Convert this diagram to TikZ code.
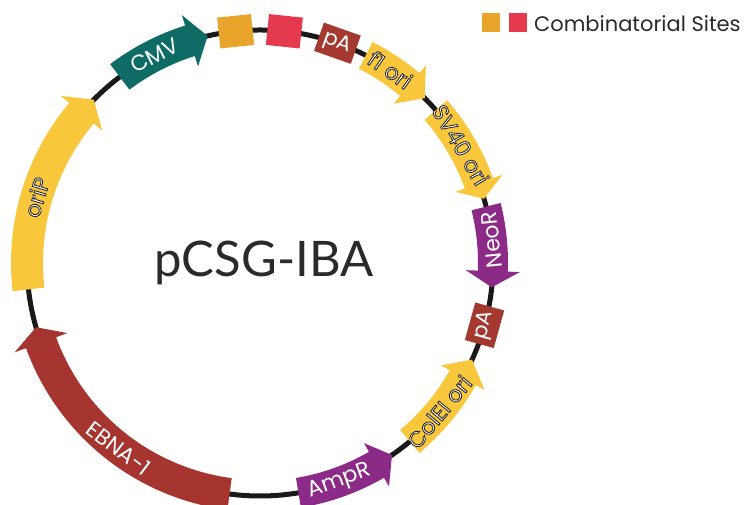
\documentclass[tikz,border=0pt]{standalone}
\usepackage{fontspec}
\setmainfont{Lato}
\newfontfamily\labfont{Poppins}
\definecolor{cmvc}{HTML}{0E6B66}
\definecolor{orc}{HTML}{E9A52B}
\definecolor{redc}{HTML}{E53A4E}
\definecolor{pac}{HTML}{A3392F}
\definecolor{yelc}{HTML}{F8C73B}
\definecolor{purc}{HTML}{8B2A87}
\definecolor{ebnac}{HTML}{A5352E}
\definecolor{txtc}{HTML}{2A2A2A}
% color, start, head base, tip, half width, head half width
\newcommand\featarrow[6]{%
  \fill[#1] (#2:{233+#5}) arc[start angle=#2, end angle=#3, radius={233+#5}]
    -- (#3:{233+#6}) -- (#4:233) -- (#3:{233-#6}) -- (#3:{233-#5})
    arc[start angle=#3, end angle=#2, radius={233-#5}] -- cycle;}
% white text with a thin dark outline (fill + stroke render mode)
\newcommand\outltext[1]{\special{pdf:literal direct 2 Tr 0.8 w 0.12 0.12 0.12 RG}#1\special{pdf:literal direct 0 Tr}}
\begin{document}
\begin{tikzpicture}[x=1pt,y=1pt,
  lbl/.style={text=white,font=\labfont\fontsize{22}{24}\selectfont,inner sep=0pt},
  olbl/.style={text=white,font=\labfont\fontsize{22}{24}\selectfont,inner sep=0pt},
  site/.style={rectangle,inner sep=0pt,minimum width=34,minimum height=31},
  pabox/.style={rectangle,fill=pac,text=white,inner sep=0pt,minimum width=39,minimum height=30,font=\labfont\fontsize{21}{23}\selectfont}]
\useasboundingbox (0,0) rectangle (745,505);
\begin{scope}[shift={(260,242)}]
  \draw[line width=5pt,black!90] (0,0) circle[radius=233];
  % features
  \featarrow{cmvc}{127}{107.5}{103}{16}{27}
  \featarrow{yelc}{186.5}{140}{135.5}{16}{27}
  \featarrow{yelc}{63}{50}{45}{15}{25}
  \featarrow{yelc}{41}{20}{16}{15}{25}
  \featarrow{purc}{14}{-2}{-6}{15}{27}
  \featarrow{yelc}{-50}{-29.5}{-24.5}{15}{25}
  \featarrow{purc}{-80.5}{-60}{-55.5}{15}{25}
  \featarrow{ebnac}{262.5}{200}{196}{16}{28}
  % combinatorial sites
  \node[site,fill=orc,rotate=6] (s1) at (96:233) {};
  \node[site,fill=redc,rotate=-6] (s2) at (84:233) {};
  \node[pabox,rotate=-19.4] (pa1) at (70.6:233) {pA};
  \node[pabox,rotate=74.5] (pa2) at (-15.5:233) {pA};
  % labels
  \node[lbl,rotate=27] (lcmv) at (117:233) {CMV};
  \node[olbl,rotate=73.6] (lorip) at (163.6:233) {\outltext{oriP}};
  \node[olbl,rotate=-35] (lf1) at (56:233) {\outltext{f1 ori}};
  \node[olbl,rotate=-59.5] (lsv) at (30.5:233) {\outltext{SV40 ori}};
  \node[lbl,rotate=95.7] (lneo) at (5.7:233) {NeoR};
  \node[olbl,rotate=50.3] (lcol) at (-39.7:233) {\outltext{ColEI ori}};
  \node[lbl,rotate=20] (lamp) at (-70:233) {AmpR};
  \node[lbl,rotate=-37.3] (lebna) at (232.7:233) {EBNA-1};
\end{scope}
\node[anchor=base,text=txtc,font=\fontsize{49}{52}\selectfont,inner sep=0pt] (title) at (264,228) {pCSG-IBA};
% legend
\node[rectangle,fill=orc,minimum width=18,minimum height=19,inner sep=0pt] (lg1) at (491,482.5) {};
\node[rectangle,fill=redc,minimum width=18,minimum height=19,inner sep=0pt] (lg2) at (517.5,482.5) {};
\node[anchor=west,text=txtc,font=\labfont\fontsize{21}{24}\selectfont,inner sep=0pt] (lgt) at (534,481) {Combinatorial Sites};
\end{tikzpicture}
\end{document}
